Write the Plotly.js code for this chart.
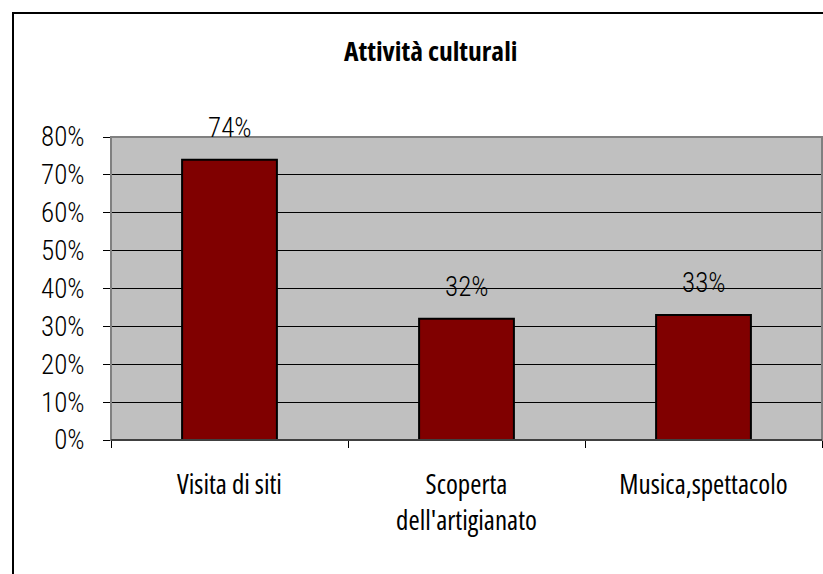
<!DOCTYPE html>
<html><head><meta charset="utf-8">
<script src="https://cdn.plot.ly/plotly-3.0.1.min.js"></script>
<style>html,body{margin:0;padding:0;background:#fff;}#chart{width:823px;height:574px;} text{font-stretch:75% !important;}</style>
</head><body><div id="chart"></div>
<script>
const categories = ["Visita di siti", "Scoperta<br>dell'artigianato", "Musica,spettacolo"];
const values = [0.74, 0.32, 0.33];
const valueLabels = ["74%", "32%", "33%"];
const yTickVals = [0, 0.1, 0.2, 0.3, 0.4, 0.5, 0.6, 0.7, 0.8];
const yTickText = ["0%", "10%", "20%", "30%", "40%", "50%", "60%", "70%", "80%"];
const chartTitle = "Attività culturali";

const NUMFONT = 'Roboto, "Open Sans", sans-serif';
const TXTFONT = '"Open Sans", Roboto, sans-serif';

const trace = {
  type: 'bar', x: categories, y: values, width: 0.4,
  marker: {color: '#800000', line: {color: '#000000', width: 2}},
  hoverinfo: 'none'
};

const annotations = categories.map((c, i) => ({
  x: c, y: values[i], xref: 'x', yref: 'y', text: valueLabels[i],
  showarrow: false, yanchor: 'bottom', yshift: 14,
  font: {family: NUMFONT, size: 27, color: '#000', weight: 300}
}));
annotations.push({
  xref: 'paper', yref: 'paper', x: (431 - 111) / 711, y: (440 - 51) / 303,
  text: '<b>' + chartTitle + '</b>', showarrow: false, xanchor: 'center', yanchor: 'middle',
  font: {family: TXTFONT, size: 27.5, color: '#000'}
});

const layout = {
  width: 823, height: 574,
  margin: {l: 111, r: 1, t: 137, b: 134},
  paper_bgcolor: '#ffffff', plot_bgcolor: '#c0c0c0',
  showlegend: false,
  font: {family: TXTFONT, size: 27, color: '#000'},
  xaxis: {
    type: 'category', tickson: 'boundaries', ticks: 'outside', ticklen: 7, tickcolor: '#000',
    showline: true, linecolor: '#000', linewidth: 1, showgrid: false, ticklabelstandoff: 21,
    tickfont: {family: TXTFONT, size: 27, color: '#000'}, automargin: false
  },
  yaxis: {
    range: [0, 0.8], tickvals: yTickVals, ticktext: yTickText,
    ticks: 'outside', ticklen: 7, tickcolor: '#000', ticklabelstandoff: 13,
    showline: true, linecolor: '#000', linewidth: 1,
    showgrid: true, gridcolor: '#000', gridwidth: 1, zeroline: false,
    tickfont: {family: NUMFONT, size: 27, color: '#000', weight: 300}, automargin: false
  },
  annotations: annotations,
  shapes: [
    {type: 'rect', xref: 'paper', yref: 'paper', x0: 0, x1: 1, y0: 0, y1: 1,
     line: {color: '#808080', width: 2}, layer: 'above'},
    {type: 'line', xref: 'paper', yref: 'paper', x0: 0, x1: 1, y0: 0, y1: 0,
     line: {color: '#000', width: 1}, layer: 'above'},
    {type: 'rect', xref: 'paper', yref: 'paper', x0: (13 - 111) / 711, x1: 1.2,
     y0: -1, y1: (440 - 13) / 303, line: {color: '#000', width: 2}, layer: 'above'}
  ]
};

Plotly.newPlot('chart', [trace], layout, {displayModeBar: false, staticPlot: true});
</script></body></html>
